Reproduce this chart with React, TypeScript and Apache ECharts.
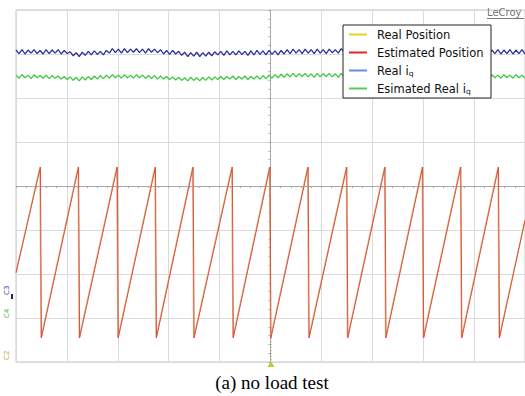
import React, { useEffect, useRef } from "react";
import * as echarts from "echarts";

// Time in divisions (-5..5), amplitude in divisions (-4..4)
const realPeakTimes = [-4.53, -3.78, -3.02, -2.27, -1.53, -0.76, -0.02, 0.73, 1.49, 2.24, 2.98, 3.73, 4.47];
const estPeakTimes = [-4.52, -3.77, -3.01, -2.26, -1.52, -0.75, -0.01, 0.74, 1.5, 2.25, 2.99, 3.74, 4.48];
const peakValue = 0.43;
const troughValue = -3.45;
const startValue = -1.97;
const endValue = -0.78;

const blueIq = [
  3.09, 3.01, 3.1, 3.0, 3.09, 3.02, 3.1, 3.01, 3.08, 3.0,
  3.1, 3.01, 3.09, 3.02, 3.1, 3.0, 3.08, 3.01, 3.05, 2.96,
  3.03, 2.94, 3.04, 2.97, 3.06, 2.98, 3.07, 2.99, 3.06, 2.98,
  3.08, 3.02, 3.12, 3.03, 3.11, 3.02, 3.12, 3.03, 3.11, 3.04,
  3.12, 3.03, 3.11, 3.02, 3.12, 3.04, 3.11, 3.03, 3.1, 3.0,
  3.08, 2.99, 3.08, 3.0, 3.06, 2.97, 3.04, 2.94, 3.03, 2.95,
  3.04, 2.94, 3.03, 2.95, 3.04, 2.96, 3.05, 2.98, 3.06, 2.97,
  3.07, 2.98, 3.06, 2.98, 3.07, 2.99, 3.06, 2.97, 3.07, 2.98,
  3.08, 2.99, 3.07, 2.98, 3.08, 2.99, 3.07, 2.98, 3.08, 3.0,
  3.1, 3.01, 3.11, 3.02, 3.1, 3.01, 3.11, 3.02, 3.1, 3.01,
  3.11, 3.02, 3.1, 3.01, 3.11, 3.03, 3.1, 3.02, 3.12, 3.03,
  3.12, 3.04, 3.13, 3.03, 3.13, 3.04, 3.12, 3.03, 3.13, 3.04,
  3.12, 3.03, 3.13, 3.04, 3.12, 3.02, 3.11, 3.02, 3.1, 3.01,
  3.11, 3.02, 3.1, 3.01, 3.12, 3.02, 3.11, 3.01, 3.1, 3.02,
  3.11, 3.01, 3.1, 3.02, 3.11, 3.0, 3.09, 3.01, 3.1, 3.0,
  3.09, 3.01, 3.1, 3.0, 3.09, 3.01, 3.1, 3.0, 3.09, 3.01,
  3.1, 3.0, 3.09, 3.01, 3.1, 3.0, 3.09, 3.01, 3.1, 3.0,
];

const greenIq = [
  2.52, 2.45, 2.53, 2.46, 2.52, 2.44, 2.53, 2.46, 2.51, 2.45,
  2.52, 2.44, 2.51, 2.45, 2.5, 2.43, 2.49, 2.42, 2.48, 2.4,
  2.47, 2.39, 2.48, 2.41, 2.49, 2.42, 2.5, 2.43, 2.51, 2.44,
  2.52, 2.45, 2.53, 2.46, 2.52, 2.45, 2.53, 2.46, 2.52, 2.45,
  2.53, 2.46, 2.52, 2.45, 2.51, 2.44, 2.51, 2.43, 2.5, 2.43,
  2.49, 2.42, 2.48, 2.41, 2.47, 2.4, 2.46, 2.39, 2.47, 2.4,
  2.46, 2.39, 2.47, 2.4, 2.48, 2.41, 2.48, 2.42, 2.49, 2.42,
  2.49, 2.43, 2.5, 2.42, 2.49, 2.43, 2.5, 2.42, 2.49, 2.43,
  2.5, 2.43, 2.51, 2.44, 2.52, 2.45, 2.53, 2.46, 2.54, 2.47,
  2.55, 2.48, 2.56, 2.48, 2.55, 2.49, 2.56, 2.48, 2.55, 2.47,
  2.56, 2.48, 2.55, 2.49, 2.56, 2.48, 2.55, 2.47, 2.56, 2.48,
  2.55, 2.47, 2.54, 2.46, 2.53, 2.46, 2.54, 2.45, 2.53, 2.46,
  2.54, 2.46, 2.53, 2.45, 2.54, 2.46, 2.53, 2.45, 2.52, 2.46,
  2.53, 2.45, 2.52, 2.44, 2.53, 2.46, 2.52, 2.45, 2.53, 2.46,
  2.52, 2.45, 2.53, 2.46, 2.52, 2.45, 2.53, 2.44, 2.52, 2.45,
  2.53, 2.46, 2.52, 2.45, 2.53, 2.46, 2.52, 2.45, 2.53, 2.46,
  2.52, 2.45, 2.53, 2.46, 2.52, 2.45, 2.53, 2.46, 2.52, 2.45,
];

const legendNames = ["Real Position", "Estimated Position", "Real i{s|q}", "Esimated Real i{s|q}"];
const legendColors = ["#e6d61e", "#e82222", "#6b8be0", "#5cc85c"];

const T_MIN = -5;
const T_MAX = 5;

function sawtooth(peaks: number[]): number[][] {
  const pts: number[][] = [[T_MIN, startValue]];
  peaks.forEach((p) => {
    pts.push([p, peakValue]);
    pts.push([p + 0.02, troughValue]);
  });
  pts.push([T_MAX, endValue]);
  return pts;
}

function sampled(values: number[]): number[][] {
  const dt = (T_MAX - T_MIN) / (values.length - 1);
  return values.map((v, i) => [T_MIN + i * dt, v]);
}

export default function App() {
  const ref = useRef<HTMLDivElement>(null);
  useEffect(() => {
    if (!ref.current) return;
    const chart = echarts.init(ref.current, undefined, { renderer: "svg" });
    const gridL = 16, gridT = 10, gridW = 510, gridH = 352;
    const lx = 343, ly = 25, rowGap = 18;
    const legendEls: any[] = [
      { type: "rect", shape: { x: lx, y: ly, width: 148, height: 73 }, style: { fill: "#fff", stroke: "#222", lineWidth: 1 }, z: 100 },
    ];
    legendNames.forEach((n, i) => {
      const y = ly + 9.5 + i * rowGap;
      legendEls.push({ type: "line", shape: { x1: lx + 6, y1: y, x2: lx + 24, y2: y }, style: { stroke: legendColors[i], lineWidth: 2 }, z: 101 });
      legendEls.push({
        type: "text", x: lx + 34, y, z: 101,
        style: {
          text: n, fill: "#111", font: '11.5px "DejaVu Sans"', verticalAlign: "middle",
          rich: { s: { fontSize: 7.5, fontFamily: "DejaVu Sans", fill: "#111", padding: [5, 0, 0, 0] } },
        },
      });
    });
    chart.setOption({
      animation: false,
      backgroundColor: "#fff",
      grid: { left: gridL, top: gridT, width: gridW, height: gridH, show: true, borderColor: "#c8c8c8", borderWidth: 1, containLabel: false },
      xAxis: {
        type: "value", min: T_MIN, max: T_MAX, interval: 1,
        axisLine: { onZero: true, lineStyle: { color: "#a8a8a8", width: 1 } },
        axisTick: { show: true, length: 2, lineStyle: { color: "#a8a8a8" } },
        minorTick: { show: true, splitNumber: 5, length: 2, lineStyle: { color: "#a8a8a8" } },
        axisLabel: { show: false },
        splitLine: { show: true, lineStyle: { color: "#dadada", width: 1 } },
      },
      yAxis: {
        type: "value", min: -4, max: 4, interval: 1,
        axisLine: { show: true, onZero: true, lineStyle: { color: "#a8a8a8", width: 1 } },
        axisTick: { show: true, length: 2, lineStyle: { color: "#a8a8a8" } },
        minorTick: { show: true, splitNumber: 5, length: 2, lineStyle: { color: "#a8a8a8" } },
        axisLabel: { show: false },
        splitLine: { show: true, lineStyle: { color: "#dadada", width: 1 } },
      },
      series: [
        { name: "Real iq", type: "line", data: sampled(blueIq), showSymbol: false, lineStyle: { color: "#2e309c", width: 1.3 }, itemStyle: { color: "#2e309c" } },
        { name: "Esimated Real iq", type: "line", data: sampled(greenIq), showSymbol: false, lineStyle: { color: "#3fc83f", width: 1.3 }, itemStyle: { color: "#3fc83f" } },
        { name: "Real Position", type: "line", data: sawtooth(realPeakTimes), showSymbol: false, lineStyle: { color: "#dcb878", width: 1.3 }, itemStyle: { color: "#dcb878" } },
        { name: "Estimated Position", type: "line", data: sawtooth(estPeakTimes), showSymbol: false, lineStyle: { color: "#d8443c", width: 0.9 }, itemStyle: { color: "#d8443c" } },
      ],
      graphic: [
        ...legendEls,
        { type: "text", x: 487, y: 12.5, style: { text: "LeCroy", fill: "#777", font: '10px "DejaVu Sans"', verticalAlign: "middle" }, z: 50 },
        { type: "line", shape: { x1: 487, y1: 18.5, x2: 524, y2: 18.5 }, style: { stroke: "#777", lineWidth: 1 }, z: 50 },
        { type: "text", x: 7, y: 295, rotation: Math.PI / 2, style: { text: "C3", fill: "#3a3ab0", font: '7px "DejaVu Sans"', verticalAlign: "middle" }, z: 50 },
        { type: "rect", shape: { x: 11, y: 294, width: 2, height: 5 }, style: { fill: "#202070" }, z: 50 },
        { type: "text", x: 7, y: 318, rotation: Math.PI / 2, style: { text: "C4", fill: "#40c040", font: '7px "DejaVu Sans"', verticalAlign: "middle" }, z: 50 },
        { type: "text", x: 7, y: 360, rotation: Math.PI / 2, style: { text: "C2", fill: "#c8a040", font: '7px "DejaVu Sans"', verticalAlign: "middle" }, z: 50 },
        { type: "line", shape: { x1: 271, y1: 338, x2: 271, y2: 362 }, style: { stroke: "#9aa060", lineWidth: 1, lineDash: [1, 2] }, z: 50 },
        { type: "polygon", shape: { points: [[271, 361], [267.5, 367], [274.5, 367]] }, style: { fill: "#c8c840" }, z: 50 },
        { type: "text", x: 272, y: 382, style: { text: "(a) no load test", fill: "#000", font: '19px "Liberation Serif"', align: "center", verticalAlign: "middle" }, z: 50 },
      ],
    });
    return () => chart.dispose();
  }, []);
  return <div ref={ref} style={{ position: "absolute", left: 0, top: 0, width: 525, height: 396 }} />;
}
